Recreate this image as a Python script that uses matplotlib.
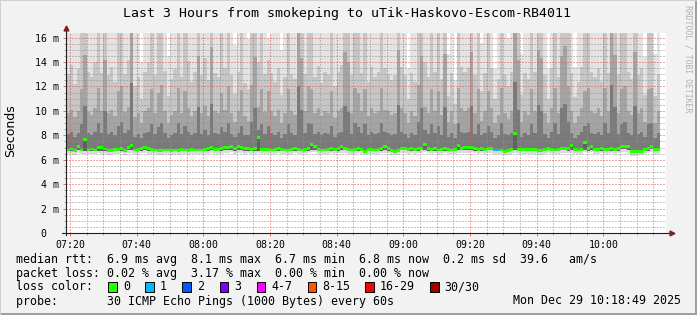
import matplotlib
matplotlib.use('Agg')
import matplotlib.pyplot as plt
from matplotlib.patches import Rectangle

# ---------------- data (ms) ----------------
START_MIN = 439  # first column 07:19 (minutes since midnight)
median = [
    6.80, 6.88, 6.75, 7.10, 6.80, 7.62, 6.80, 6.88, 6.80, 7.00,
    7.00, 6.88, 6.75, 6.75, 6.85, 6.85, 6.93, 6.75, 7.00, 7.15,
    6.80, 6.85, 6.93, 7.00, 6.93, 6.85, 6.80, 6.75, 6.75, 6.80,
    6.80, 6.74, 6.80, 6.74, 6.85, 6.80, 6.74, 6.85, 6.80, 6.80,
    6.80, 6.85, 6.93, 7.00, 6.85, 6.85, 6.93, 7.00, 7.00, 7.10,
    6.93, 7.07, 7.00, 6.93, 6.93, 6.85, 6.93, 7.85, 6.85, 6.85,
    6.85, 6.80, 6.85, 6.90, 6.85, 6.80, 6.80, 6.85, 6.90, 6.85,
    6.80, 6.85, 6.90, 7.22, 7.05, 6.85, 6.80, 6.80, 6.85, 6.90,
    6.85, 6.90, 7.10, 6.95, 6.85, 6.80, 6.85, 6.90, 6.85, 6.70,
    6.85, 6.85, 6.80, 6.85, 6.90, 7.10, 6.90, 6.75, 6.70, 6.72,
    6.95, 6.95, 6.85, 6.90, 6.85, 6.90, 6.95, 7.22, 6.90, 6.85,
    6.90, 6.80, 6.85, 6.90, 6.85, 6.80, 6.85, 7.20, 6.95, 7.00,
    7.00, 7.00, 6.90, 6.85, 6.90, 6.85, 6.95, 6.95, 6.80, 6.80,
    6.80, 6.70, 6.75, 6.85, 8.13, 6.85, 6.85, 6.85, 6.85, 6.85,
    6.85, 6.72, 6.72, 6.85, 6.95, 6.85, 6.80, 6.85, 6.95, 6.95,
    6.90, 7.20, 6.85, 6.80, 6.85, 7.38, 6.90, 7.12, 6.85, 6.85,
    6.90, 6.85, 6.85, 6.90, 6.85, 6.90, 7.10, 7.10, 7.05, 6.65,
    6.65, 6.70, 6.70, 6.85, 6.90, 7.05, 6.85, 6.85,
]
ping_min = [
    6.45, 6.50, 6.42, 6.55, 6.48, 6.50, 6.45, 6.50, 6.46, 6.52,
    6.50, 6.48, 6.42, 6.40, 6.46, 6.48, 6.52, 6.42, 6.55, 6.58,
    6.45, 6.48, 6.52, 6.55, 6.50, 6.46, 6.44, 6.40, 6.42, 6.45,
    6.46, 6.40, 6.45, 6.42, 6.48, 6.45, 6.40, 6.47, 6.45, 6.46,
    6.45, 6.48, 6.50, 6.55, 6.46, 6.48, 6.50, 6.55, 6.55, 6.60,
    6.50, 6.58, 6.55, 6.50, 6.52, 6.46, 6.50, 6.55, 6.48, 6.46,
    6.48, 6.45, 6.48, 6.52, 6.48, 6.45, 6.44, 6.48, 6.52, 6.48,
    6.45, 6.48, 6.52, 6.60, 6.60, 6.48, 6.45, 6.44, 6.48, 6.52,
    6.48, 6.52, 6.58, 6.55, 6.48, 6.45, 6.48, 6.52, 6.48, 6.38,
    6.48, 6.48, 6.45, 6.48, 6.52, 6.58, 6.52, 6.40, 6.36, 6.38,
    6.55, 6.55, 6.48, 6.52, 6.48, 6.52, 6.55, 6.60, 6.52, 6.48,
    6.52, 6.45, 6.48, 6.52, 6.48, 6.45, 6.48, 6.58, 6.55, 6.58,
    6.58, 6.60, 6.52, 6.48, 6.52, 6.48, 6.55, 6.55, 6.45, 6.45,
    6.45, 6.38, 6.40, 6.48, 6.55, 6.48, 6.48, 6.48, 6.48, 6.48,
    6.48, 6.38, 6.38, 6.48, 6.55, 6.48, 6.45, 6.48, 6.55, 6.55,
    6.52, 6.58, 6.48, 6.45, 6.48, 6.60, 6.52, 6.60, 6.48, 6.48,
    6.52, 6.48, 6.48, 6.52, 6.48, 6.52, 6.65, 6.65, 6.62, 6.32,
    6.32, 6.36, 6.36, 6.48, 6.52, 6.62, 6.48, 6.48,
]
ping_lowmid = [
    6.68, 6.72, 6.64, 6.78, 6.70, 6.72, 6.68, 6.72, 6.68, 6.74,
    6.74, 6.70, 6.62, 6.62, 6.70, 6.70, 6.74, 6.62, 6.76, 6.78,
    6.68, 6.70, 6.74, 6.76, 6.74, 6.70, 6.68, 6.62, 6.62, 6.68,
    6.68, 6.62, 6.68, 6.62, 6.70, 6.68, 6.62, 6.70, 6.68, 6.68,
    6.68, 6.70, 6.74, 6.76, 6.70, 6.70, 6.74, 6.76, 6.76, 6.80,
    6.74, 6.80, 6.76, 6.74, 6.74, 6.70, 6.74, 6.72, 6.70, 6.70,
    6.70, 6.68, 6.70, 6.74, 6.70, 6.68, 6.68, 6.70, 6.74, 6.70,
    6.68, 6.70, 6.74, 6.82, 6.80, 6.70, 6.68, 6.68, 6.70, 6.74,
    6.70, 6.74, 6.80, 6.78, 6.70, 6.68, 6.70, 6.74, 6.70, 6.58,
    6.70, 6.70, 6.68, 6.70, 6.74, 6.80, 6.74, 6.62, 6.58, 6.60,
    6.78, 6.78, 6.70, 6.74, 6.70, 6.74, 6.78, 6.82, 6.74, 6.70,
    6.74, 6.68, 6.70, 6.74, 6.70, 6.68, 6.70, 6.80, 6.78, 6.80,
    6.80, 6.80, 6.74, 6.70, 6.74, 6.70, 6.78, 6.78, 6.68, 6.68,
    6.68, 6.58, 6.62, 6.70, 6.78, 6.70, 6.70, 6.70, 6.70, 6.70,
    6.70, 6.60, 6.60, 6.70, 6.78, 6.70, 6.68, 6.70, 6.78, 6.78,
    6.74, 6.80, 6.70, 6.68, 6.70, 6.82, 6.74, 6.80, 6.70, 6.70,
    6.74, 6.70, 6.70, 6.74, 6.70, 6.74, 6.85, 6.85, 6.82, 6.55,
    6.55, 6.58, 6.58, 6.70, 6.74, 6.84, 6.70, 6.70,
]
ping_p60 = [
    8.1, 8.3, 7.9, 8.2, 8.9, 10.4, 8.2, 8.0, 8.3, 9.0,
    8.2, 10.0, 8.1, 8.3, 8.0, 8.8, 9.1, 8.2, 8.4, 12.3,
    7.9, 8.1, 7.8, 8.2, 8.3, 8.9, 8.1, 8.7, 9.0, 8.2,
    7.8, 8.0, 8.2, 9.0, 8.1, 8.8, 8.3, 8.0, 8.2, 10.3,
    8.1, 8.4, 8.0, 10.6, 8.2, 8.1, 8.7, 8.3, 9.0, 8.1,
    7.9, 8.2, 8.8, 8.0, 8.0, 9.1, 10.2, 8.4, 8.9, 8.1,
    8.8, 8.2, 8.0, 8.3, 7.8, 8.1, 8.9, 8.2, 8.0, 12.0,
    10.1, 8.2, 9.0, 8.9, 8.1, 8.3, 8.0, 8.2, 8.1, 8.8,
    7.9, 8.2, 8.3, 10.4, 9.9, 8.1, 9.0, 8.7, 8.2, 8.9,
    8.0, 8.3, 8.1, 8.2, 9.0, 8.3, 8.2, 8.0, 8.1, 10.5,
    8.3, 8.1, 7.8, 8.2, 8.0, 9.1, 10.2, 8.4, 8.1, 8.9,
    8.2, 8.8, 8.0, 10.3, 7.9, 8.2, 7.8, 9.0, 8.3, 8.2,
    8.3, 10.4, 8.1, 8.9, 8.0, 8.2, 8.8, 8.3, 7.8, 8.0,
    9.0, 8.1, 8.0, 8.2, 12.4, 10.1, 7.9, 8.2, 8.0, 8.9,
    8.2, 10.5, 10.0, 8.1, 7.8, 8.3, 9.0, 8.1, 10.2, 10.6,
    9.1, 8.2, 7.8, 8.0, 8.3, 8.8, 9.0, 8.2, 8.1, 8.3,
    8.0, 9.0, 8.2, 12.1, 10.3, 8.1, 8.9, 9.1, 8.2, 8.0,
    10.4, 8.1, 8.3, 7.9, 8.9, 9.0, 7.8, 8.2,
]
ping_p75 = [
    9.8, 10.1, 9.5, 10.0, 11.8, 14.6, 9.9, 9.7, 10.2, 11.9,
    10.0, 14.2, 9.8, 10.1, 9.6, 11.6, 12.0, 9.9, 10.3, 22.0,
    9.5, 9.8, 9.0, 10.0, 10.2, 11.8, 9.8, 11.5, 12.1, 10.0,
    9.0, 9.7, 10.0, 11.9, 9.8, 11.6, 10.2, 9.6, 10.0, 14.5,
    9.8, 10.4, 9.6, 15.2, 10.0, 9.8, 11.5, 10.1, 12.0, 9.8,
    9.1, 10.0, 11.7, 9.6, 9.2, 12.1, 14.4, 10.3, 11.8, 9.9,
    11.6, 10.0, 9.6, 10.1, 9.0, 9.8, 11.8, 10.0, 9.7, 21.0,
    14.3, 10.0, 12.0, 11.8, 9.8, 10.2, 9.6, 10.0, 9.8, 11.6,
    9.4, 10.0, 10.2, 14.8, 14.0, 9.8, 11.9, 11.5, 10.0, 11.8,
    9.6, 10.2, 9.8, 10.0, 11.9, 10.1, 10.0, 9.7, 9.8, 15.0,
    10.2, 9.8, 9.0, 10.0, 9.6, 12.1, 14.5, 10.3, 9.8, 11.8,
    10.0, 11.6, 9.7, 14.7, 9.1, 10.0, 8.9, 11.9, 10.2, 10.0,
    10.2, 14.8, 9.8, 11.8, 9.2, 10.0, 11.6, 10.2, 9.0, 9.7,
    11.9, 9.8, 9.3, 10.0, 22.5, 14.2, 9.1, 10.0, 9.7, 11.8,
    10.0, 15.0, 14.3, 9.8, 9.0, 10.2, 11.9, 9.8, 14.5, 15.3,
    12.0, 10.0, 9.0, 9.6, 10.2, 11.6, 11.9, 10.0, 9.8, 10.2,
    9.6, 11.9, 10.0, 21.5, 14.6, 9.8, 11.8, 12.0, 10.0, 9.7,
    14.8, 9.8, 10.2, 9.1, 11.8, 11.9, 9.0, 10.0,
]
ping_p90 = [
    13.0, 13.8, 12.2, 13.4, 18.0, 24.0, 13.2, 12.8, 14.0, 18.5,
    13.1, 23.0, 12.9, 13.6, 12.4, 17.5, 18.8, 13.0, 14.2, 34.0,
    12.0, 12.8, 11.0, 13.2, 13.9, 18.2, 12.9, 17.4, 19.0, 13.3,
    11.2, 12.6, 13.4, 18.6, 12.8, 17.8, 14.1, 12.4, 13.2, 23.5,
    12.9, 14.3, 12.5, 25.0, 13.1, 12.8, 17.2, 13.5, 18.8, 12.9,
    11.4, 13.2, 17.9, 12.3, 11.8, 19.2, 23.0, 14.0, 18.3, 13.0,
    14.2, 13.1, 12.4, 13.5, 11.3, 12.8, 18.1, 13.0, 12.6, 33.0,
    23.4, 13.0, 18.9, 18.0, 12.8, 13.7, 12.3, 13.2, 12.9, 17.6,
    12.0, 13.2, 13.8, 24.2, 22.5, 12.9, 18.4, 17.3, 13.1, 18.0,
    12.4, 13.6, 12.8, 13.2, 18.5, 13.5, 13.0, 12.5, 12.9, 24.5,
    13.6, 12.9, 11.0, 13.1, 12.4, 19.0, 23.5, 14.0, 12.8, 18.2,
    13.2, 17.5, 12.6, 24.0, 11.2, 13.1, 10.6, 18.6, 13.6, 13.2,
    13.5, 24.3, 12.9, 18.0, 11.6, 13.1, 17.4, 13.5, 11.0, 12.6,
    18.6, 12.9, 12.0, 13.2, 35.0, 23.0, 11.3, 13.1, 12.6, 18.1,
    13.2, 24.6, 23.2, 12.9, 11.0, 13.5, 18.4, 12.8, 23.8, 25.0,
    18.9, 13.1, 11.1, 12.4, 13.6, 17.6, 18.5, 13.2, 12.8, 13.5,
    12.4, 18.6, 13.1, 34.0, 23.8, 12.9, 18.0, 18.8, 13.2, 12.6,
    24.2, 12.9, 13.5, 11.3, 18.2, 18.6, 11.2, 13.0,
]
ping_max = [
    28, 32, 24, 30, 40, 45, 29, 27, 33, 41,
    30, 44, 28, 31, 26, 39, 42, 29, 34, 52,
    24, 27, 14.0, 30, 32, 40, 28, 38, 43, 30,
    14.5, 27, 31, 41, 28, 39, 33, 26, 30, 46,
    28, 34, 26, 48, 30, 28, 38, 31, 42, 28,
    15.4, 30, 40, 26, 15.9, 43, 45, 33, 41, 29,
    16.0, 30, 26, 31, 15.0, 28, 40, 29, 27, 50,
    46, 29, 42, 40, 28, 32, 25, 30, 28, 39,
    24, 30, 32, 47, 44, 28, 41, 38, 29, 40,
    26, 31, 28, 30, 41, 31, 29, 27, 28, 47,
    31, 28, 13.5, 30, 26, 43, 46, 33, 28, 40,
    30, 39, 27, 46, 14.7, 30, 12.5, 41, 31, 30,
    31, 47, 28, 40, 15.6, 30, 38, 31, 13.4, 27,
    41, 28, 16.0, 30, 55, 45, 14.7, 30, 27, 40,
    30, 47, 45, 28, 13.4, 31, 41, 28, 46, 48,
    42, 30, 13.6, 26, 31, 39, 41, 30, 28, 31,
    26, 41, 30, 52, 46, 28, 40, 42, 30, 27,
    47, 28, 31, 14.4, 40, 41, 14.7, 29,
]
loss_digits = ("0000000000 0000000000 0000000000 0000000000 0000000000 "
               "0000000000 0000000000 0000000000 0000000000 0000000000 "
               "0000000000 0000000000 0000000011 0000000000 0000000000 "
               "0000000000 0000000000 00000000")
loss = [int(c) for c in loss_digits if c.isdigit()]

LOSS_LABELS = ['0', '1', '2', '3', '4-7', '8-15', '16-29', '30/30']
LOSS_COLORS = ['#26ff00', '#00b8ff', '#0059ff', '#7e00ff',
               '#ff00ff', '#ff5500', '#ff0000', '#a10000']

XTICKS = [440, 460, 480, 500, 520, 540, 560, 580, 600]
XTICK_LABELS = ['07:20', '07:40', '08:00', '08:20', '08:40',
                '09:00', '09:20', '09:40', '10:00']
XMINOR = list(range(440, 620, 5))
YTICKS = [0, 2, 4, 6, 8, 10, 12, 14, 16]
YTICK_LABELS = ['0  ', '2 m', '4 m', '6 m', '8 m', '10 m', '12 m', '14 m', '16 m']
YMINOR = [v * 0.5 for v in range(0, 33)]
X_RANGE = (438.82, 618.82)
Y_MAX = 16.38

TITLE = 'Last 3 Hours from smokeping to uTik-Haskovo-Escom-RB4011'
ROW1 = 'median rtt:  6.9 ms avg  8.1 ms max  6.7 ms min  6.8 ms now  0.2 ms sd  39.6   am/s'
ROW2 = 'packet loss: 0.02 % avg  3.17 % max  0.00 % min  0.00 % now'
ROW3 = 'loss color:'
ROW4L = 'probe:       30 ICMP Echo Pings (1000 Bytes) every 60s'
ROW4R = 'Mon Dec 29 10:18:49 2025'

# ---------------- figure ----------------
W, H = 697, 315
MONO = 'DejaVu Sans Mono'
fig = plt.figure(figsize=(W / 100, H / 100), dpi=100)
fig.patch.set_facecolor('#f2f2f2')

def fx(px):
    return px / W

def fy(py):
    return 1 - py / H

# border shading
fig.add_artist(Rectangle((0, 0), 1, 2 / H, transform=fig.transFigure, color='#9e9e9e', lw=0))
fig.add_artist(Rectangle((1 - 2 / W, 0), 2 / W, 1, transform=fig.transFigure, color='#9e9e9e', lw=0))
fig.add_artist(Rectangle((0, 1 - 1 / H), 1, 1 / H, transform=fig.transFigure, color='#cfcfcf', lw=0))
fig.add_artist(Rectangle((0, 0), 1 / W, 1, transform=fig.transFigure, color='#cfcfcf', lw=0))

ax = fig.add_axes([fx(66), fy(233), 600 / W, 200 / H])
ax.set_facecolor('white')
ax.set_xlim(*X_RANGE)
ax.set_ylim(0, Y_MAX)

n = len(median)
xs = [START_MIN + i for i in range(n)]

def band(bottom, top, color, z=1):
    ax.bar(xs, [t - b for b, t in zip(bottom, top)], bottom=bottom, width=1.0,
           align='edge', color=color, linewidth=0, antialiased=False, zorder=z)

# lower smoke
band(ping_min, median, '#dadada')
band(ping_lowmid, median, '#606060')
# upper smoke (outer to inner)
band(median, ping_max, '#e3e3e3')
band(median, ping_p90, '#c6c6c6')
band(median, ping_p75, '#a4a4a4')
band(median, ping_p60, '#7a7a7a')

# median line coloured by loss
ax.bar(xs, [0.24] * n, bottom=[m - 0.12 for m in median], width=1.0, align='edge',
       color=[LOSS_COLORS[l] for l in loss], linewidth=0, antialiased=False, zorder=4)

# grid
ax.set_xticks(XTICKS)
ax.set_xticklabels(XTICK_LABELS)
ax.set_xticks(XMINOR, minor=True)
ax.set_yticks(YTICKS)
ax.set_yticklabels(YTICK_LABELS)
ax.set_yticks(YMINOR, minor=True)
ax.set_axisbelow(False)
dot = (0, (1, 2))
ax.grid(which='minor', color=(0.56, 0.56, 0.56, 0.5), linestyle=dot, linewidth=0.72)
ax.grid(which='major', color=(0.87, 0.31, 0.31, 0.5), linestyle=dot, linewidth=0.72)

ax.tick_params(which='major', length=2.2, width=0.72, color=(0.87, 0.31, 0.31, 0.8),
               labelsize=7.1, pad=2.5)
ax.tick_params(which='minor', length=1.5, width=0.72, color=(0.56, 0.56, 0.56, 0.8))
ax.tick_params(axis='x', which='major', pad=3.0)
for lab in ax.get_xticklabels() + ax.get_yticklabels():
    lab.set_fontfamily(MONO)

for s in ax.spines.values():
    s.set_visible(False)

# axes with arrows
axis_col = '#1f1f1f'
arrow_col = '#801f1f'
ax.plot([0, 0], [-0.01, 1.02], transform=ax.transAxes, color=axis_col, lw=0.8,
        clip_on=False, zorder=6)
ax.plot([-0.006, 1.007], [0, 0], transform=ax.transAxes, color=axis_col, lw=0.8,
        clip_on=False, zorder=6)
ax.plot([0], [1.025], transform=ax.transAxes, marker='^', markersize=3.5,
        color=arrow_col, clip_on=False, zorder=7)
ax.plot([1.01], [0], transform=ax.transAxes, marker='>', markersize=3.5,
        color=arrow_col, clip_on=False, zorder=7)

# texts
fig.text(fx(347), fy(14), TITLE, ha='center', va='center', fontsize=9.5, family=MONO)
fig.text(fx(11), fy(131), 'Seconds', ha='center', va='center', rotation=90,
         fontsize=9.0, family='DejaVu Sans')
fig.text(fx(688), fy(59), 'RRDTOOL / TOBI OETIKER', ha='center', va='center',
         rotation=270, fontsize=5.9, family=MONO, color='#b0b0b0')

fs = 8.4
fig.text(fx(16), fy(259), ROW1, ha='left', va='center', fontsize=fs, family=MONO)
fig.text(fx(16), fy(273), ROW2, ha='left', va='center', fontsize=fs, family=MONO)
fig.text(fx(16), fy(287), ROW3, ha='left', va='center', fontsize=fs, family=MONO)
fig.text(fx(16), fy(301), ROW4L, ha='left', va='center', fontsize=fs, family=MONO)
fig.text(fx(681), fy(301), ROW4R, ha='right', va='center', fontsize=fs, family=MONO)

box_x = [108, 145.3, 182.2, 219.6, 256.9, 307.6, 365.3, 430.2]
lab_x = [123, 160, 197, 234, 271, 322, 380, 444.4]
for bx, lx, lab, col in zip(box_x, lab_x, LOSS_LABELS, LOSS_COLORS):
    fig.add_artist(Rectangle((fx(bx), fy(291.5)), 8.5 / W, 9.5 / H,
                             transform=fig.transFigure, facecolor=col,
                             edgecolor='black', lw=0.7))
    fig.text(fx(lx), fy(287), lab, ha='left', va='center', fontsize=fs, family=MONO)

fig.savefig('out.png', dpi=100, facecolor=fig.get_facecolor())
